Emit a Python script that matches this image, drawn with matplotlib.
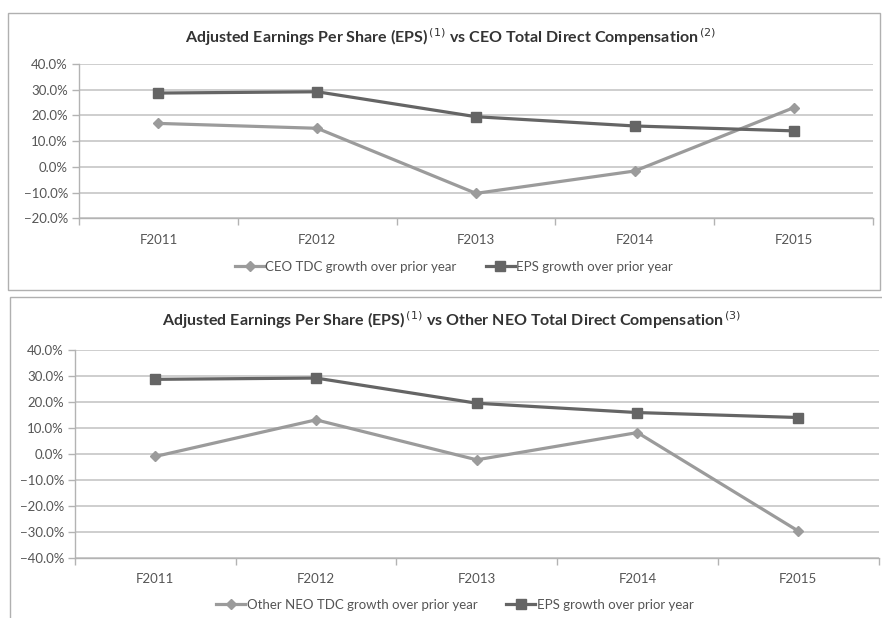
import matplotlib
matplotlib.use("Agg")
import matplotlib.pyplot as plt
from matplotlib.patches import Rectangle
from matplotlib.ticker import FixedLocator, PercentFormatter

plt.rcParams['font.family'] = ['Lato', 'DejaVu Sans']

years = ["F2011", "F2012", "F2013", "F2014", "F2015"]
ceo_tdc = [16.9, 15.0, -10.3, -1.6, 23.0]
eps_growth = [28.7, 29.2, 19.5, 15.9, 14.0]
other_neo_tdc = [-1.0, 13.1, -2.3, 8.2, -29.7]

title_top = "Adjusted Earnings Per Share (EPS)$^{\\,(1)}$ vs CEO Total Direct Compensation$^{\\,(2)}$"
title_bot = "Adjusted Earnings Per Share (EPS)$^{\\,(1)}$ vs Other NEO Total Direct Compensation$^{\\,(3)}$"

W, H = 882, 618
fig = plt.figure(figsize=(W / 100, H / 100), dpi=100)
fig.patch.set_facecolor("white")

LIGHT = "#9b9b9b"
DARK = "#656565"
GRID = "#c6c6c6"
AX = "#b3b3b3"
TXT = "#555555"


def px_axes(l, r, t, b):
    return fig.add_axes([l / W, 1 - b / H, (r - l) / W, (b - t) / H])


# frames
fig.add_artist(Rectangle((8 / W, 1 - 290 / H), (880 - 8) / W, (290 - 13) / H,
                         transform=fig.transFigure, fill=False, edgecolor="#b0b0b0", lw=1.0))
fig.add_artist(Rectangle((10 / W, 1 - 640 / H), (900 - 10) / W, (640 - 297) / H,
                         transform=fig.transFigure, fill=False, edgecolor="#b0b0b0", lw=1.0))


def style(ax, ylo, yhi):
    x = list(range(len(years)))
    ax.set_xlim(-0.5, len(years) - 0.5)
    ax.set_ylim(ylo, yhi)
    ax.yaxis.set_major_locator(FixedLocator(list(range(ylo, yhi + 1, 10))))
    ax.yaxis.set_major_formatter(PercentFormatter(decimals=1))
    ax.xaxis.set_major_locator(FixedLocator([i - 0.5 for i in range(len(years) + 1)]))
    ax.xaxis.set_major_formatter(plt.NullFormatter())
    ax.xaxis.set_minor_locator(FixedLocator(x))
    ax.set_xticklabels(years, minor=True)
    ax.tick_params(axis="x", which="minor", length=0, pad=11, labelsize=9.5, labelcolor=TXT)
    ax.tick_params(axis="x", which="major", length=5, color=AX, width=1)
    ax.tick_params(axis="y", length=5, color=AX, width=1, labelsize=9.5, labelcolor=TXT, pad=3)
    ax.grid(axis="y", color=GRID, lw=1.2)
    ax.set_axisbelow(True)
    for s in ("top", "right"):
        ax.spines[s].set_visible(False)
    for s in ("left", "bottom"):
        ax.spines[s].set_color(AX)
        ax.spines[s].set_linewidth(1.0)
    ax.set_facecolor("none")
    return x


# top chart
ax1 = px_axes(79, 873, 64, 218.3)
x = style(ax1, -20, 40)
h1, = ax1.plot(x, ceo_tdc, color=LIGHT, lw=2.3, marker="D", ms=5.5, label="CEO TDC growth over prior year")
h2, = ax1.plot(x, eps_growth, color=DARK, lw=2.3, marker="s", ms=7.5, label="EPS growth over prior year")
fig.text(451 / W, 1 - 37 / H, title_top, ha="center", va="center", fontsize=11.5, fontweight="bold", color="#333333")
fig.legend(handles=[h1, h2], loc="center", bbox_to_anchor=(454 / W, 1 - 267 / H), ncol=2, frameon=False,
           fontsize=9.5, labelcolor=TXT, handlelength=2.2, handletextpad=0.1, columnspacing=2.2)

# bottom chart
ax2 = px_axes(75, 878.5, 350, 557.7)
x = style(ax2, -40, 40)
h3, = ax2.plot(x, other_neo_tdc, color=LIGHT, lw=2.3, marker="D", ms=5.5, label="Other NEO TDC growth over prior year")
h4, = ax2.plot(x, eps_growth, color=DARK, lw=2.3, marker="s", ms=7.5, label="EPS growth over prior year")
fig.text(452 / W, 1 - 320 / H, title_bot, ha="center", va="center", fontsize=11.5, fontweight="bold", color="#333333")
fig.legend(handles=[h3, h4], loc="center", bbox_to_anchor=(455 / W, 1 - 605 / H), ncol=2, frameon=False,
           fontsize=9.5, labelcolor=TXT, handlelength=2.2, handletextpad=0.1, columnspacing=2.2)

fig.savefig("out.png", dpi=100)
